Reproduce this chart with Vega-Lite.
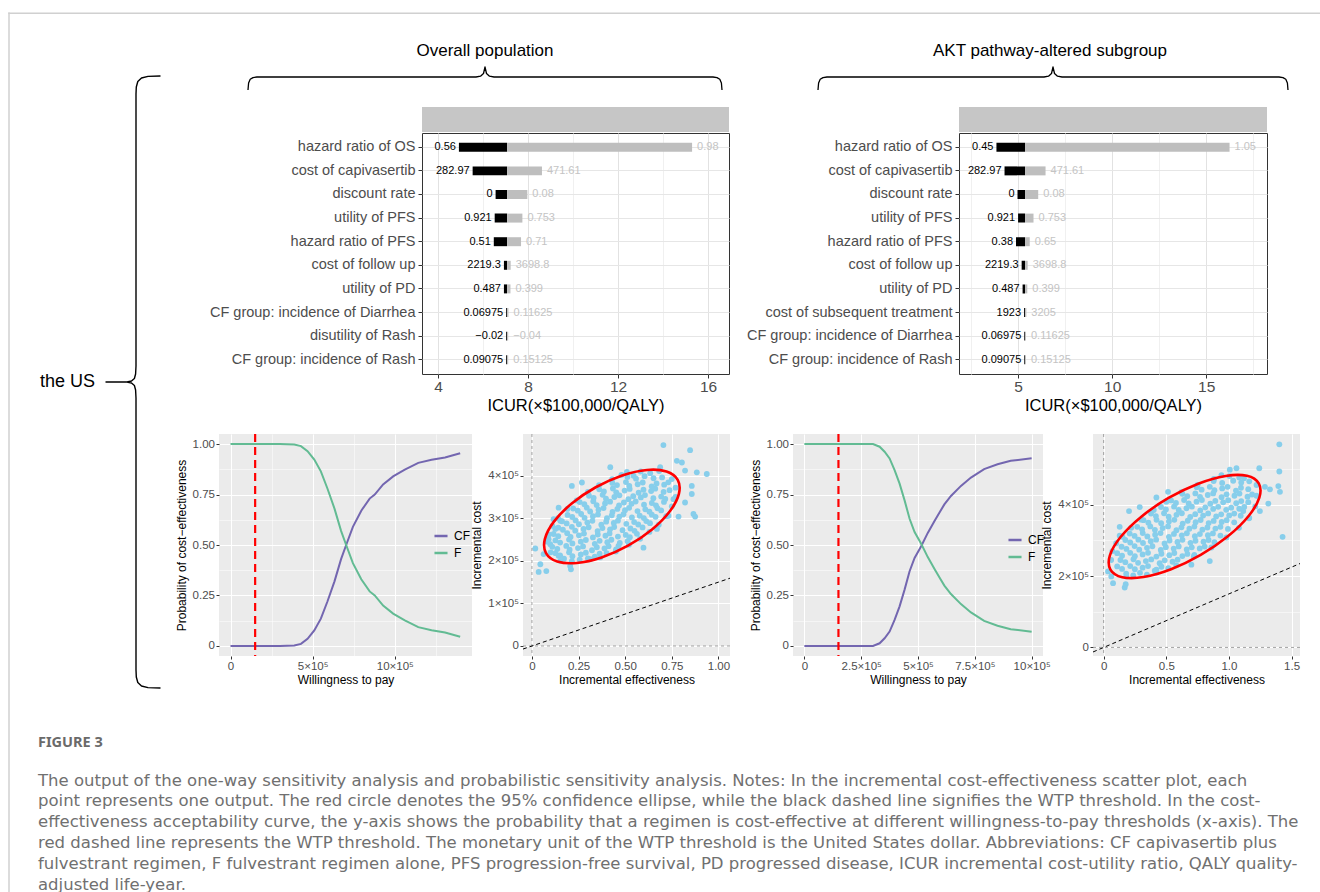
{
"$schema": "https://vega.github.io/schema/vega-lite/v6.json",
"background": "white",
"padding": {"left": 8, "top": 12, "right": 0, "bottom": 0},
"spacing": 0,
"resolve": {"scale": {"x": "independent", "y": "independent", "color": "independent"}, "legend": {"color": "independent"}},
"config": {
  "font": "Liberation Sans",
  "view": {"stroke": null},
  "concat": {"spacing": 0},
  "axis": {"domain": false, "titleFontWeight": "normal", "titleColor": "#000000", "labelColor": "#4D4D4D", "tickColor": "#333333", "labelFont": "Liberation Sans", "titleFont": "Liberation Sans"},
  "legend": {"labelFont": "Liberation Sans"}
},
"title": {
  "text": "FIGURE 3",
  "subtitle": [
    "The output of the one-way sensitivity analysis and probabilistic sensitivity analysis. Notes: In the incremental cost-effectiveness scatter plot, each",
    "point represents one output. The red circle denotes the 95% confidence ellipse, while the black dashed line signifies the WTP threshold. In the cost-",
    "effectiveness acceptability curve, the y-axis shows the probability that a regimen is cost-effective at different willingness-to-pay thresholds (x-axis). The",
    "red dashed line represents the WTP threshold. The monetary unit of the WTP threshold is the United States dollar. Abbreviations: CF capivasertib plus",
    "fulvestrant regimen, F fulvestrant regimen alone, PFS progression-free survival, PD progressed disease, ICUR incremental cost-utility ratio, QALY quality-",
    "adjusted life-year."
  ],
  "orient": "bottom", "anchor": "start", "frame": "group", "offset": -156, "dx": 30,
  "font": "Noto Sans", "fontSize": 14.5, "fontWeight": "bold", "color": "#6a6a6a",
  "subtitleFont": "DejaVu Sans", "subtitleFontSize": 16.5, "subtitleColor": "#707070", "subtitleLineHeight": 20.8, "subtitlePadding": 22
},
"datasets": {
  "frameL": [
    {"x":0.25,"x2":1.75,"y":0.5,"y2":880},{"x":0.25,"x2":160,"y":0.5,"y2":2}
  ],
  "frameR": [
    {"x":0,"x2":1152,"y":0.5,"y2":2}
  ],
  "braceL": [
    {"i":0,"x":152,"y":64},{"i":1,"x":140,"y":64.4},{"i":2,"x":133.5,"y":66},{"i":3,"x":129.8,"y":69.5},{"i":4,"x":128.3,"y":75},{"i":5,"x":128,"y":82},
    {"i":6,"x":128,"y":354},{"i":7,"x":127.6,"y":362},{"i":8,"x":126.4,"y":366.5},{"i":9,"x":123.5,"y":369},{"i":10,"x":119,"y":370},{"i":11,"x":98,"y":370},
    {"i":12,"x":119,"y":370.1},{"i":13,"x":123.5,"y":371},{"i":14,"x":126.4,"y":373.5},{"i":15,"x":127.6,"y":378},{"i":16,"x":128,"y":386},
    {"i":17,"x":128,"y":658},{"i":18,"x":128.3,"y":665},{"i":19,"x":129.8,"y":670.5},{"i":20,"x":133.5,"y":674},{"i":21,"x":140,"y":675.6},{"i":22,"x":152,"y":676}
  ],
  "brace1": [
    {"i":0,"x":0,"y":50},{"i":1,"x":0.6,"y":43},{"i":2,"x":2.2,"y":39.3},{"i":3,"x":5,"y":37.6},{"i":4,"x":9,"y":37},{"i":5,"x":228,"y":37},
    {"i":6,"x":232.5,"y":36.2},{"i":7,"x":235.5,"y":33.5},{"i":8,"x":237,"y":27},{"i":9,"x":238.5,"y":33.5},{"i":10,"x":241.5,"y":36.2},{"i":11,"x":246,"y":37},
    {"i":12,"x":465,"y":37},{"i":13,"x":469,"y":37.6},{"i":14,"x":471.8,"y":39.3},{"i":15,"x":473.4,"y":43},{"i":16,"x":474,"y":50}
  ],
  "brace2": [
    {"i":0,"x":2,"y":50},{"i":1,"x":2.6,"y":43},{"i":2,"x":4.2,"y":39.3},{"i":3,"x":7,"y":37.6},{"i":4,"x":11,"y":37},{"i":5,"x":228,"y":37},
    {"i":6,"x":232.5,"y":36.2},{"i":7,"x":235.5,"y":33.5},{"i":8,"x":237,"y":27},{"i":9,"x":238.5,"y":33.5},{"i":10,"x":241.5,"y":36.2},{"i":11,"x":246,"y":37},
    {"i":12,"x":463,"y":37},{"i":13,"x":467,"y":37.6},{"i":14,"x":469.8,"y":39.3},{"i":15,"x":471.4,"y":43},{"i":16,"x":472,"y":50}
  ],
  "tor1": [
    {"p":"hazard ratio of OS","lv":"0.56","hv":"0.98","lo":4.93,"hi":15.29,"base":7.07},
    {"p":"cost of capivasertib","lv":"282.97","hv":"471.61","lo":5.54,"hi":8.62,"base":7.07},
    {"p":"discount rate","lv":"0","hv":"0.08","lo":6.56,"hi":7.97,"base":7.07},
    {"p":"utility of PFS","lv":"0.921","hv":"0.753","lo":6.52,"hi":7.75,"base":7.07},
    {"p":"hazard ratio of PFS","lv":"0.51","hv":"0.71","lo":6.48,"hi":7.69,"base":7.07},
    {"p":"cost of follow up","lv":"2219.3","hv":"3698.8","lo":6.93,"hi":7.23,"base":7.07},
    {"p":"utility of PD","lv":"0.487","hv":"0.399","lo":6.93,"hi":7.22,"base":7.07},
    {"p":"CF group: incidence of Diarrhea","lv":"0.06975","hv":"0.11625","lo":7.03,"hi":7.13,"base":7.07},
    {"p":"disutility of Rash","lv":"−0.02","hv":"−0.04","lo":7.03,"hi":7.12,"base":7.07},
    {"p":"CF group: incidence of Rash","lv":"0.09075","hv":"0.15125","lo":7.03,"hi":7.12,"base":7.07}
  ],
  "tor2": [
    {"p":"hazard ratio of OS","lv":"0.45","hv":"1.05","lo":3.85,"hi":16.24,"base":5.37},
    {"p":"cost of capivasertib","lv":"282.97","hv":"471.61","lo":4.28,"hi":6.46,"base":5.37},
    {"p":"discount rate","lv":"0","hv":"0.08","lo":4.97,"hi":6.07,"base":5.37},
    {"p":"utility of PFS","lv":"0.921","hv":"0.753","lo":5.0,"hi":5.82,"base":5.37},
    {"p":"hazard ratio of PFS","lv":"0.38","hv":"0.65","lo":4.89,"hi":5.62,"base":5.37},
    {"p":"cost of follow up","lv":"2219.3","hv":"3698.8","lo":5.19,"hi":5.51,"base":5.37},
    {"p":"utility of PD","lv":"0.487","hv":"0.399","lo":5.24,"hi":5.49,"base":5.37},
    {"p":"cost of subsequent treatment","lv":"1923","hv":"3205","lo":5.32,"hi":5.44,"base":5.37},
    {"p":"CF group: incidence of Diarrhea","lv":"0.06975","hv":"0.11625","lo":5.33,"hi":5.42,"base":5.37},
    {"p":"CF group: incidence of Rash","lv":"0.09075","hv":"0.15125","lo":5.33,"hi":5.42,"base":5.37}
  ],
  "ceac1": [
    {"s":"CF","w":0,"p":0},{"s":"CF","w":100000,"p":0},{"s":"CF","w":200000,"p":0},{"s":"CF","w":300000,"p":0},{"s":"CF","w":388000,"p":0.002},{"s":"CF","w":429000,"p":0.01},
    {"s":"CF","w":469000,"p":0.035},{"s":"CF","w":510000,"p":0.077},{"s":"CF","w":550000,"p":0.135},{"s":"CF","w":590000,"p":0.22},{"s":"CF","w":633000,"p":0.32},{"s":"CF","w":673000,"p":0.43},
    {"s":"CF","w":704000,"p":0.5},{"s":"CF","w":745000,"p":0.59},{"s":"CF","w":796000,"p":0.67},{"s":"CF","w":847000,"p":0.73},{"s":"CF","w":878000,"p":0.75},{"s":"CF","w":929000,"p":0.8},
    {"s":"CF","w":990000,"p":0.84},{"s":"CF","w":1061000,"p":0.873},{"s":"CF","w":1143000,"p":0.907},{"s":"CF","w":1224000,"p":0.922},{"s":"CF","w":1306000,"p":0.934},{"s":"CF","w":1398000,"p":0.955},
    {"s":"F","w":0,"p":1},{"s":"F","w":100000,"p":1},{"s":"F","w":200000,"p":1},{"s":"F","w":300000,"p":1},{"s":"F","w":388000,"p":0.998},{"s":"F","w":429000,"p":0.99},
    {"s":"F","w":469000,"p":0.965},{"s":"F","w":510000,"p":0.923},{"s":"F","w":550000,"p":0.865},{"s":"F","w":590000,"p":0.78},{"s":"F","w":633000,"p":0.68},{"s":"F","w":673000,"p":0.57},
    {"s":"F","w":704000,"p":0.5},{"s":"F","w":745000,"p":0.41},{"s":"F","w":796000,"p":0.33},{"s":"F","w":847000,"p":0.27},{"s":"F","w":878000,"p":0.25},{"s":"F","w":929000,"p":0.2},
    {"s":"F","w":990000,"p":0.16},{"s":"F","w":1061000,"p":0.127},{"s":"F","w":1143000,"p":0.093},{"s":"F","w":1224000,"p":0.078},{"s":"F","w":1306000,"p":0.066},{"s":"F","w":1398000,"p":0.045}
  ],
  "ceac2": [
    {"s":"CF","w":0,"p":0},{"s":"CF","w":150000,"p":0},{"s":"CF","w":302000,"p":0},{"s":"CF","w":331000,"p":0.013},{"s":"CF","w":353000,"p":0.038},{"s":"CF","w":375000,"p":0.071},
    {"s":"CF","w":397000,"p":0.129},{"s":"CF","w":419000,"p":0.196},{"s":"CF","w":441000,"p":0.279},{"s":"CF","w":463000,"p":0.37},{"s":"CF","w":485000,"p":0.436},{"s":"CF","w":514000,"p":0.494},
    {"s":"CF","w":543000,"p":0.56},{"s":"CF","w":572000,"p":0.618},{"s":"CF","w":594000,"p":0.66},{"s":"CF","w":616000,"p":0.701},{"s":"CF","w":645000,"p":0.743},{"s":"CF","w":689000,"p":0.793},
    {"s":"CF","w":733000,"p":0.834},{"s":"CF","w":791000,"p":0.876},{"s":"CF","w":850000,"p":0.9},{"s":"CF","w":908000,"p":0.917},{"s":"CF","w":1000000,"p":0.93},
    {"s":"F","w":0,"p":1},{"s":"F","w":150000,"p":1},{"s":"F","w":302000,"p":1},{"s":"F","w":331000,"p":0.987},{"s":"F","w":353000,"p":0.962},{"s":"F","w":375000,"p":0.929},
    {"s":"F","w":397000,"p":0.871},{"s":"F","w":419000,"p":0.804},{"s":"F","w":441000,"p":0.721},{"s":"F","w":463000,"p":0.63},{"s":"F","w":485000,"p":0.564},{"s":"F","w":514000,"p":0.506},
    {"s":"F","w":543000,"p":0.44},{"s":"F","w":572000,"p":0.382},{"s":"F","w":594000,"p":0.34},{"s":"F","w":616000,"p":0.299},{"s":"F","w":645000,"p":0.257},{"s":"F","w":689000,"p":0.207},
    {"s":"F","w":733000,"p":0.166},{"s":"F","w":791000,"p":0.124},{"s":"F","w":850000,"p":0.1},{"s":"F","w":908000,"p":0.083},{"s":"F","w":1000000,"p":0.07}
  ],
  "ell1": [
    {"i":0,"e":0.7817,"c":390300},{"i":1,"e":0.788,"c":357500},{"i":2,"e":0.7395,"c":316600},{"i":3,"e":0.6438,"c":273800},
    {"i":4,"e":0.5152,"c":235700},{"i":5,"e":0.3733,"c":208000},{"i":6,"e":0.2401,"c":195000},{"i":7,"e":0.1355,"c":198600},
    {"i":8,"e":0.0754,"c":218300},{"i":9,"e":0.0691,"c":251200},{"i":10,"e":0.1177,"c":292100},{"i":11,"e":0.2133,"c":334800},
    {"i":12,"e":0.342,"c":372900},{"i":13,"e":0.4838,"c":400700},{"i":14,"e":0.617,"c":413600},{"i":15,"e":0.7217,"c":410000}
  ],
  "ell2": [
    {"i":0,"e":1.238,"c":459400},{"i":1,"e":1.2425,"c":419700},{"i":2,"e":1.1556,"c":367700},{"i":3,"e":0.9915,"c":311300},
    {"i":4,"e":0.7746,"c":259100},{"i":5,"e":0.538,"c":219000},{"i":6,"e":0.3184,"c":197300},{"i":7,"e":0.1484,"c":196900},
    {"i":8,"e":0.0541,"c":218300},{"i":9,"e":0.0498,"c":258100},{"i":10,"e":0.1367,"c":310000},{"i":11,"e":0.3008,"c":366400},
    {"i":12,"e":0.5177,"c":418700},{"i":13,"e":0.7543,"c":458800},{"i":14,"e":0.9739,"c":480500},{"i":15,"e":1.1439,"c":480800}
  ],
  "sc1": [
    {"e":0.172,"c":205000},{"e":0.214,"c":199000},{"e":0.256,"c":203000},{"e":0.30,"c":206000},
    {"e":0.126,"c":218000},{"e":0.151,"c":213000},{"e":0.199,"c":220000},{"e":0.217,"c":211000},{"e":0.262,"c":215000},{"e":0.289,"c":219000},{"e":0.337,"c":210000},{"e":0.363,"c":217000},
    {"e":0.109,"c":233000},{"e":0.136,"c":228000},{"e":0.184,"c":235000},{"e":0.202,"c":226000},{"e":0.247,"c":230000},{"e":0.274,"c":234000},{"e":0.322,"c":225000},{"e":0.348,"c":232000},{"e":0.389,"c":229000},{"e":0.411,"c":234500},{"e":0.451,"c":227000},
    {"e":0.126,"c":248000},{"e":0.151,"c":243000},{"e":0.199,"c":250000},{"e":0.217,"c":241000},{"e":0.262,"c":245000},{"e":0.289,"c":249000},{"e":0.337,"c":240000},{"e":0.363,"c":247000},{"e":0.404,"c":244000},{"e":0.426,"c":249500},{"e":0.471,"c":242000},{"e":0.513,"c":246000},
    {"e":0.116,"c":263000},{"e":0.141,"c":258000},{"e":0.189,"c":265000},{"e":0.207,"c":256000},{"e":0.252,"c":260000},{"e":0.279,"c":264000},{"e":0.327,"c":255000},{"e":0.353,"c":262000},{"e":0.394,"c":259000},{"e":0.416,"c":264500},{"e":0.461,"c":257000},{"e":0.503,"c":261000},{"e":0.525,"c":255500},{"e":0.563,"c":263500},
    {"e":0.141,"c":278000},{"e":0.166,"c":273000},{"e":0.214,"c":280000},{"e":0.232,"c":271000},{"e":0.277,"c":275000},{"e":0.304,"c":279000},{"e":0.352,"c":270000},{"e":0.378,"c":277000},{"e":0.419,"c":274000},{"e":0.441,"c":279500},{"e":0.486,"c":272000},{"e":0.528,"c":276000},{"e":0.55,"c":270500},{"e":0.593,"c":278500},
    {"e":0.161,"c":293000},{"e":0.186,"c":288000},{"e":0.234,"c":295000},{"e":0.252,"c":286000},{"e":0.297,"c":290000},{"e":0.324,"c":294000},{"e":0.372,"c":285000},{"e":0.398,"c":292000},{"e":0.439,"c":289000},{"e":0.461,"c":294500},{"e":0.506,"c":287000},{"e":0.548,"c":291000},{"e":0.57,"c":285500},{"e":0.613,"c":293500},{"e":0.633,"c":288500},
    {"e":0.191,"c":308000},{"e":0.216,"c":303000},{"e":0.264,"c":310000},{"e":0.282,"c":301000},{"e":0.327,"c":305000},{"e":0.354,"c":309000},{"e":0.402,"c":300000},{"e":0.428,"c":307000},{"e":0.469,"c":304000},{"e":0.491,"c":309500},{"e":0.536,"c":302000},{"e":0.578,"c":306000},{"e":0.6,"c":300500},{"e":0.643,"c":308500},{"e":0.663,"c":303500},
    {"e":0.221,"c":323000},{"e":0.246,"c":318000},{"e":0.294,"c":325000},{"e":0.312,"c":316000},{"e":0.357,"c":320000},{"e":0.384,"c":324000},{"e":0.432,"c":315000},{"e":0.458,"c":322000},{"e":0.499,"c":319000},{"e":0.521,"c":324500},{"e":0.566,"c":317000},{"e":0.608,"c":321000},{"e":0.63,"c":315500},{"e":0.673,"c":323500},{"e":0.693,"c":318500},
    {"e":0.256,"c":338000},{"e":0.281,"c":333000},{"e":0.329,"c":340000},{"e":0.347,"c":331000},{"e":0.392,"c":335000},{"e":0.419,"c":339000},{"e":0.467,"c":330000},{"e":0.493,"c":337000},{"e":0.534,"c":334000},{"e":0.556,"c":339500},{"e":0.601,"c":332000},{"e":0.643,"c":336000},{"e":0.665,"c":330500},{"e":0.708,"c":338500},
    {"e":0.306,"c":353000},{"e":0.331,"c":348000},{"e":0.379,"c":355000},{"e":0.397,"c":346000},{"e":0.442,"c":350000},{"e":0.469,"c":354000},{"e":0.517,"c":345000},{"e":0.543,"c":352000},{"e":0.584,"c":349000},{"e":0.606,"c":354500},{"e":0.651,"c":347000},{"e":0.693,"c":351000},{"e":0.715,"c":345500},
    {"e":0.361,"c":368000},{"e":0.386,"c":363000},{"e":0.434,"c":370000},{"e":0.452,"c":361000},{"e":0.497,"c":365000},{"e":0.524,"c":369000},{"e":0.572,"c":360000},{"e":0.598,"c":367000},{"e":0.639,"c":364000},{"e":0.661,"c":369500},{"e":0.706,"c":362000},{"e":0.738,"c":366000},
    {"e":0.431,"c":383000},{"e":0.456,"c":378000},{"e":0.504,"c":385000},{"e":0.522,"c":376000},{"e":0.567,"c":380000},{"e":0.594,"c":384000},{"e":0.642,"c":375000},{"e":0.668,"c":382000},{"e":0.709,"c":379000},{"e":0.731,"c":384500},
    {"e":0.512,"c":397000},{"e":0.558,"c":393000},{"e":0.604,"c":399000},{"e":0.652,"c":394000},{"e":0.698,"c":396000},
    {"e":0.583,"c":410000},{"e":0.634,"c":406000},{"e":0.682,"c":411000},
    {"e":0.705,"c":472000},{"e":0.777,"c":435000},{"e":0.804,"c":431000},{"e":0.848,"c":460000},{"e":0.884,"c":408000},{"e":0.9375,"c":404000},{"e":0.821,"c":412000},{"e":0.857,"c":376000},{"e":0.857,"c":357000},{"e":0.875,"c":304000},
    {"e":0.786,"c":304000},{"e":0.821,"c":337000},{"e":0.6875,"c":420000},{"e":0.598,"c":231000},{"e":0.036,"c":174000},{"e":0.045,"c":192000},{"e":0.077,"c":176000},{"e":0.018,"c":229000},{"e":0.0625,"c":216000},{"e":0.098,"c":239000},
    {"e":0.089,"c":251000},{"e":0.205,"c":188000},{"e":0.209,"c":180000},{"e":0.143,"c":212000},{"e":0.152,"c":200000},{"e":0.3125,"c":204000},{"e":0.366,"c":208000},{"e":0.214,"c":376000},{"e":0.268,"c":384000},{"e":0.143,"c":325000},
    {"e":0.152,"c":294000},{"e":0.116,"c":298000},{"e":0.125,"c":275000},{"e":0.42,"c":420000},{"e":0.509,"c":409000},{"e":0.545,"c":400000},{"e":0.464,"c":235000},{"e":0.759,"c":345000},{"e":0.732,"c":306000},{"e":0.866,"c":310000},{"e":0.67,"c":275000},
    {"e":0.08,"c":245000},{"e":0.09,"c":262000},{"e":0.11,"c":282000},{"e":0.14,"c":300000},{"e":0.19,"c":322000},{"e":0.24,"c":342000},{"e":0.30,"c":362000},{"e":0.36,"c":378000},{"e":0.43,"c":392000},{"e":0.48,"c":402000},
    {"e":0.45,"c":222000},{"e":0.52,"c":238000},{"e":0.58,"c":252000},{"e":0.63,"c":268000},{"e":0.68,"c":285000},{"e":0.72,"c":305000},{"e":0.75,"c":328000},{"e":0.77,"c":350000},{"e":0.77,"c":372000},{"e":0.75,"c":392000},{"e":0.40,"c":218000},{"e":0.10,"c":220000}
  ],
  "sc2": [
    {"e":0.18,"c":207000},{"e":0.236,"c":202000},{"e":0.29,"c":209000},{"e":0.345,"c":204000},
    {"e":0.108,"c":227000},{"e":0.147,"c":220000},{"e":0.212,"c":228000},{"e":0.249,"c":219000},{"e":0.311,"c":223500},{"e":0.354,"c":228000},{"e":0.421,"c":218000},{"e":0.461,"c":226000},{"e":0.516,"c":222000},
    {"e":0.134,"c":245000},{"e":0.173,"c":239000},{"e":0.238,"c":247000},{"e":0.275,"c":237000},{"e":0.337,"c":242000},{"e":0.38,"c":246500},{"e":0.447,"c":236000},{"e":0.487,"c":244000},{"e":0.55,"c":240000},{"e":0.59,"c":246000},
    {"e":0.108,"c":264000},{"e":0.147,"c":257000},{"e":0.212,"c":265000},{"e":0.249,"c":255500},{"e":0.311,"c":260500},{"e":0.354,"c":265000},{"e":0.421,"c":254500},{"e":0.461,"c":262500},{"e":0.524,"c":258500},{"e":0.564,"c":264500},{"e":0.628,"c":256000},{"e":0.668,"c":262000},{"e":0.724,"c":259000},
    {"e":0.143,"c":282000},{"e":0.182,"c":276000},{"e":0.247,"c":284000},{"e":0.284,"c":274000},{"e":0.346,"c":279000},{"e":0.389,"c":283500},{"e":0.456,"c":273000},{"e":0.496,"c":281000},{"e":0.559,"c":277000},{"e":0.599,"c":283000},{"e":0.663,"c":274500},{"e":0.703,"c":280500},{"e":0.767,"c":277500},{"e":0.806,"c":282500},
    {"e":0.173,"c":301000},{"e":0.212,"c":294000},{"e":0.277,"c":302000},{"e":0.314,"c":292500},{"e":0.376,"c":297500},{"e":0.419,"c":302000},{"e":0.486,"c":291500},{"e":0.526,"c":299500},{"e":0.589,"c":295500},{"e":0.629,"c":301500},{"e":0.693,"c":293000},{"e":0.733,"c":299000},{"e":0.797,"c":296000},{"e":0.837,"c":301000},{"e":0.884,"c":295000},
    {"e":0.208,"c":319000},{"e":0.247,"c":312500},{"e":0.312,"c":320500},{"e":0.349,"c":311000},{"e":0.411,"c":316000},{"e":0.454,"c":320500},{"e":0.521,"c":310000},{"e":0.561,"c":318000},{"e":0.624,"c":314000},{"e":0.664,"c":320000},{"e":0.728,"c":311500},{"e":0.768,"c":317500},{"e":0.832,"c":314500},{"e":0.872,"c":319500},{"e":0.932,"c":313500},
    {"e":0.268,"c":338000},{"e":0.307,"c":331000},{"e":0.372,"c":339000},{"e":0.409,"c":329500},{"e":0.471,"c":334500},{"e":0.514,"c":339000},{"e":0.581,"c":328500},{"e":0.621,"c":336500},{"e":0.684,"c":332500},{"e":0.724,"c":338500},{"e":0.788,"c":330000},{"e":0.828,"c":336000},{"e":0.892,"c":333000},{"e":0.932,"c":338000},{"e":0.992,"c":332000},
    {"e":0.318,"c":356500},{"e":0.357,"c":349500},{"e":0.422,"c":357500},{"e":0.459,"c":348000},{"e":0.521,"c":353000},{"e":0.564,"c":357500},{"e":0.631,"c":347000},{"e":0.671,"c":355000},{"e":0.734,"c":351000},{"e":0.774,"c":357000},{"e":0.838,"c":348500},{"e":0.878,"c":354500},{"e":0.942,"c":351500},{"e":0.982,"c":356500},{"e":1.042,"c":350500},
    {"e":0.378,"c":375000},{"e":0.417,"c":368000},{"e":0.482,"c":376000},{"e":0.519,"c":366500},{"e":0.581,"c":371500},{"e":0.624,"c":376000},{"e":0.691,"c":365500},{"e":0.731,"c":373500},{"e":0.794,"c":369500},{"e":0.834,"c":375500},{"e":0.898,"c":367000},{"e":0.938,"c":373000},{"e":1.002,"c":370000},{"e":1.042,"c":375000},{"e":1.094,"c":369000},
    {"e":0.458,"c":393500},{"e":0.497,"c":386500},{"e":0.562,"c":394500},{"e":0.599,"c":385000},{"e":0.661,"c":390000},{"e":0.704,"c":394500},{"e":0.771,"c":384000},{"e":0.811,"c":392000},{"e":0.874,"c":388000},{"e":0.914,"c":394000},{"e":0.978,"c":385500},{"e":1.018,"c":391500},{"e":1.082,"c":388500},{"e":1.122,"c":393500},
    {"e":0.538,"c":412000},{"e":0.577,"c":405000},{"e":0.642,"c":413000},{"e":0.679,"c":403500},{"e":0.741,"c":408500},{"e":0.784,"c":413000},{"e":0.851,"c":402500},{"e":0.891,"c":410500},{"e":0.954,"c":406500},{"e":0.994,"c":412500},{"e":1.058,"c":404000},{"e":1.098,"c":410000},{"e":1.154,"c":407000},
    {"e":0.628,"c":430500},{"e":0.667,"c":423500},{"e":0.732,"c":431500},{"e":0.769,"c":422000},{"e":0.831,"c":427000},{"e":0.874,"c":431500},{"e":0.941,"c":421000},{"e":0.981,"c":429000},{"e":1.044,"c":425000},{"e":1.084,"c":431000},{"e":1.148,"c":422500},{"e":1.185,"c":428500},
    {"e":0.743,"c":449000},{"e":0.782,"c":442000},{"e":0.847,"c":450000},{"e":0.884,"c":440500},{"e":0.946,"c":445500},{"e":0.989,"c":450000},{"e":1.056,"c":439500},{"e":1.096,"c":447500},{"e":1.154,"c":443500},
    {"e":0.878,"c":466000},{"e":0.946,"c":461000},{"e":1.034,"c":467000},{"e":1.098,"c":462000},{"e":1.162,"c":465500},
    {"e":1.004,"c":480000},{"e":1.082,"c":476000},
    {"e":1.402,"c":569000},{"e":1.402,"c":493000},{"e":1.242,"c":502000},{"e":1.394,"c":452000},{"e":1.407,"c":436000},{"e":1.327,"c":443000},{"e":1.314,"c":403000},{"e":1.428,"c":310000},{"e":1.287,"c":450000},{"e":1.247,"c":382000},
    {"e":1.162,"c":363000},{"e":1.114,"c":382000},{"e":0.847,"c":242000},{"e":0.70,"c":232000},{"e":0.408,"c":215000},{"e":0.2025,"c":382000},{"e":0.421,"c":420000},{"e":0.514,"c":436000},{"e":0.075,"c":180000},{"e":0.168,"c":168000},
    {"e":0.176,"c":177000},{"e":0.035,"c":213000},{"e":0.061,"c":199000},{"e":0.128,"c":338000},{"e":0.128,"c":313000},{"e":1.007,"c":498000},{"e":1.06,"c":502000},{"e":0.94,"c":483000},{"e":0.288,"c":393000},{"e":0.181,"c":199000},
    {"e":0.06,"c":245000},{"e":0.07,"c":270000},{"e":0.10,"c":292000},{"e":0.15,"c":310000},{"e":0.22,"c":335000},{"e":0.30,"c":358000},{"e":0.40,"c":385000},{"e":0.50,"c":408000},{"e":0.62,"c":435000},{"e":0.75,"c":455000},{"e":0.88,"c":472000},
    {"e":0.42,"c":210000},{"e":0.58,"c":230000},{"e":0.72,"c":255000},{"e":0.86,"c":280000},{"e":0.98,"c":308000},{"e":1.08,"c":335000},{"e":1.16,"c":362000},{"e":1.21,"c":395000},{"e":1.22,"c":425000},{"e":1.22,"c":455000},{"e":1.12,"c":474000}
  ]
},
"hconcat": [
  {
    "width": 160, "height": 880,
    "layer": [
      {"data": {"name": "frameL"}, "mark": {"type": "rect", "color": "#D0D0D0"},
       "encoding": {"x": {"field": "x", "type": "quantitative", "scale": {"domain": [0, 160], "nice": false, "zero": false}, "axis": null},
                    "x2": {"field": "x2"},
                    "y": {"field": "y", "type": "quantitative", "scale": {"domain": [0, 880], "nice": false, "zero": false, "reverse": true}, "axis": null},
                    "y2": {"field": "y2"}}},
      {"data": {"name": "braceL"}, "mark": {"type": "line", "color": "#000000", "strokeWidth": 1.4, "strokeJoin": "round", "strokeCap": "round"},
       "encoding": {"x": {"field": "x", "type": "quantitative"},
                    "y": {"field": "y", "type": "quantitative"},
                    "order": {"field": "i", "type": "quantitative"}}},
      {"data": {"values": [{"t": "the US"}]}, "mark": {"type": "text", "align": "left", "baseline": "middle", "fontSize": 18, "color": "#000000"},
       "encoding": {"x": {"datum": 32, "type": "quantitative"}, "y": {"datum": 370, "type": "quantitative"}, "text": {"field": "t"}}}
    ]
  },
  {
    "vconcat": [
      {"width": 1152, "height": 28,
       "data": {"name": "frameR"}, "mark": {"type": "rect", "color": "#D0D0D0"},
       "encoding": {"x": {"field": "x", "type": "quantitative", "scale": {"domain": [0, 1152], "nice": false, "zero": false}, "axis": null},
                    "x2": {"field": "x2"},
                    "y": {"field": "y", "type": "quantitative", "scale": {"domain": [0, 28], "nice": false, "zero": false, "reverse": true}, "axis": null},
                    "y2": {"field": "y2"}}},
      {
        "hconcat": [
          {"width": 80, "height": 92, "data": {"values": []}, "mark": "point"},
          {
            "width": 481, "height": 92,
            "layer": [
              {"data": {"values": [{}]}, "mark": {"type": "rect", "color": "#C6C6C6"},
               "encoding": {"x": {"datum": 174, "type": "quantitative", "scale": {"domain": [0, 481], "nice": false, "zero": false}, "axis": null},
                            "x2": {"datum": 481},
                            "y": {"datum": 67, "type": "quantitative", "scale": {"domain": [0, 92], "nice": false, "zero": false, "reverse": true}, "axis": null},
                            "y2": {"datum": 92}}},
              {"data": {"name": "brace1"}, "mark": {"type": "line", "color": "#000000", "strokeWidth": 1.3, "strokeJoin": "round"},
               "encoding": {"x": {"field": "x", "type": "quantitative"}, "y": {"field": "y", "type": "quantitative"}, "order": {"field": "i", "type": "quantitative"}}},
              {"data": {"values": [{"t": "Overall population"}]}, "mark": {"type": "text", "align": "center", "baseline": "middle", "fontSize": 17, "color": "#000000"},
               "encoding": {"x": {"datum": 237, "type": "quantitative"}, "y": {"datum": 11, "type": "quantitative"}, "text": {"field": "t"}}}
            ]
          },
          {"width": 87, "height": 92, "data": {"values": []}, "mark": "point"},
          {
            "width": 474, "height": 92,
            "layer": [
              {"data": {"values": [{}]}, "mark": {"type": "rect", "color": "#C6C6C6"},
               "encoding": {"x": {"datum": 143, "type": "quantitative", "scale": {"domain": [0, 474], "nice": false, "zero": false}, "axis": null},
                            "x2": {"datum": 451},
                            "y": {"datum": 67, "type": "quantitative", "scale": {"domain": [0, 92], "nice": false, "zero": false, "reverse": true}, "axis": null},
                            "y2": {"datum": 92}}},
              {"data": {"name": "brace2"}, "mark": {"type": "line", "color": "#000000", "strokeWidth": 1.3, "strokeJoin": "round"},
               "encoding": {"x": {"field": "x", "type": "quantitative"}, "y": {"field": "y", "type": "quantitative"}, "order": {"field": "i", "type": "quantitative"}}},
              {"data": {"values": [{"t": "AKT pathway-altered subgroup"}]}, "mark": {"type": "text", "align": "center", "baseline": "middle", "fontSize": 17, "color": "#000000"},
               "encoding": {"x": {"datum": 234, "type": "quantitative"}, "y": {"datum": 11, "type": "quantitative"}, "text": {"field": "t"}}}
            ]
          }
        ],
        "spacing": 0, "bounds": "flush",
        "resolve": {"scale": {"x": "independent", "y": "independent"}}
      },
      {
        "hconcat": [
          {"width": 254, "height": 241, "data": {"values": []}, "mark": "point"},
          {
            "width": 307, "height": 241,
            "data": {"name": "tor1"},
            "view": {"stroke": "#333333", "strokeWidth": 1, "fill": "white"},
            "encoding": {
              "y": {"field": "p", "type": "nominal", "sort": null, "scale": {"paddingInner": 0.62, "paddingOuter": 0.415},
                    "axis": {"title": null, "labelFontSize": 14.5, "labelColor": "#4D4D4D", "labelLimit": 400, "tickSize": 4, "labelPadding": 3, "grid": true, "gridColor": "#E6E6E6", "bandPosition": 0.5}}
            },
            "layer": [
              {"mark": {"type": "bar", "color": "#000000"},
               "encoding": {"x": {"field": "lo", "type": "quantitative", "scale": {"domain": [3.29, 16.93], "nice": false, "zero": false},
                                  "axis": {"values": [4,6,8,10,12,14,16], "labelExpr": "datum.value % 4 == 0 ? datum.label : ''",
                                           "tickOpacity": {"condition": {"test": "datum.value % 4 != 0", "value": 0}, "value": 1},
                                           "grid": true, "gridColor": {"condition": {"test": "datum.value % 4 != 0", "value": "#F0F0F0"}, "value": "#E2E2E2"},
                                           "title": "ICUR(×$100,000/QALY)", "titleFontSize": 16.5, "labelFontSize": 15.5, "tickSize": 4, "labelPadding": 1, "titlePadding": 3, "labelFlush": false}},
                            "x2": {"field": "base"}}},
              {"mark": {"type": "bar", "color": "#BEBEBE"},
               "encoding": {"x": {"field": "base", "type": "quantitative"}, "x2": {"field": "hi"}}},
              {"mark": {"type": "text", "align": "right", "baseline": "middle", "dx": -3, "fontSize": 11, "color": "#000000"},
               "encoding": {"x": {"field": "lo", "type": "quantitative"}, "text": {"field": "lv"}}},
              {"mark": {"type": "text", "align": "left", "baseline": "middle", "dx": 5, "fontSize": 11, "color": "#C4C4C4"},
               "encoding": {"x": {"field": "hi", "type": "quantitative"}, "text": {"field": "hv"}}}
            ]
          },
          {"width": 230, "height": 241, "data": {"values": []}, "mark": "point"},
          {
            "width": 308, "height": 241,
            "data": {"name": "tor2"},
            "view": {"stroke": "#333333", "strokeWidth": 1, "fill": "white"},
            "encoding": {
              "y": {"field": "p", "type": "nominal", "sort": null, "scale": {"paddingInner": 0.62, "paddingOuter": 0.415},
                    "axis": {"title": null, "labelFontSize": 14.5, "labelColor": "#4D4D4D", "labelLimit": 400, "tickSize": 4, "labelPadding": 3, "grid": true, "gridColor": "#E6E6E6", "bandPosition": 0.5}}
            },
            "layer": [
              {"mark": {"type": "bar", "color": "#000000"},
               "encoding": {"x": {"field": "lo", "type": "quantitative", "scale": {"domain": [1.86, 18.23], "nice": false, "zero": false},
                                  "axis": {"values": [2.5,5,7.5,10,12.5,15,17.5], "labelExpr": "datum.value % 5 == 0 ? datum.label : ''",
                                           "tickOpacity": {"condition": {"test": "datum.value % 5 != 0", "value": 0}, "value": 1},
                                           "grid": true, "gridColor": {"condition": {"test": "datum.value % 5 != 0", "value": "#F0F0F0"}, "value": "#E2E2E2"},
                                           "title": "ICUR(×$100,000/QALY)", "titleFontSize": 16.5, "labelFontSize": 15.5, "tickSize": 4, "labelPadding": 1, "titlePadding": 3, "labelFlush": false}},
                            "x2": {"field": "base"}}},
              {"mark": {"type": "bar", "color": "#BEBEBE"},
               "encoding": {"x": {"field": "base", "type": "quantitative"}, "x2": {"field": "hi"}}},
              {"mark": {"type": "text", "align": "right", "baseline": "middle", "dx": -3, "fontSize": 11, "color": "#000000"},
               "encoding": {"x": {"field": "lo", "type": "quantitative"}, "text": {"field": "lv"}}},
              {"mark": {"type": "text", "align": "left", "baseline": "middle", "dx": 5, "fontSize": 11, "color": "#C4C4C4"},
               "encoding": {"x": {"field": "hi", "type": "quantitative"}, "text": {"field": "hv"}}}
            ]
          }
        ],
        "spacing": 0, "bounds": "flush",
        "resolve": {"scale": {"x": "independent", "y": "independent"}}
      },
      {"width": 10, "height": 17, "data": {"values": []}, "mark": "point"},
      {
        "hconcat": [
          {"width": 51, "height": 222, "data": {"values": []}, "mark": "point"},
          {
            "width": 253, "height": 222,
            "view": {"fill": "#EBEBEB", "stroke": null},
            "layer": [
              {"data": {"name": "ceac1"}, "mark": {"type": "line", "strokeWidth": 2},
               "encoding": {
                 "x": {"field": "w", "type": "quantitative", "scale": {"domain": [-70000, 1470000], "nice": false, "zero": false},
                       "axis": {"values": [0,250000,500000,750000,1000000,1250000],
                                "labelExpr": "datum.value == 0 ? '0' : (datum.value % 500000 == 0 ? (datum.value/100000) + '×10⁵' : '')",
                                "tickOpacity": {"condition": {"test": "datum.value % 500000 != 0", "value": 0}, "value": 1},
                                "grid": true, "gridColor": "#FFFFFF", "gridWidth": {"condition": {"test": "datum.value % 500000 != 0", "value": 0.5}, "value": 1.1},
                                "title": "Willingness to pay", "labelFontSize": 11.5, "titleFontSize": 12, "tickSize": 3, "labelPadding": 1.5, "titlePadding": 2, "labelFlush": false}},
                 "y": {"field": "p", "type": "quantitative", "scale": {"domain": [-0.05, 1.05], "nice": false, "zero": false},
                       "axis": {"values": [0,0.125,0.25,0.375,0.5,0.625,0.75,0.875,1],
                                "labelExpr": "datum.value == 0 ? '0' : ((datum.value * 4) % 1 == 0 ? format(datum.value, '.2f') : '')",
                                "tickOpacity": {"condition": {"test": "(datum.value * 4) % 1 != 0", "value": 0}, "value": 1},
                                "grid": true, "gridColor": "#FFFFFF", "gridWidth": {"condition": {"test": "(datum.value * 4) % 1 != 0", "value": 0.5}, "value": 1.1},
                                "title": "Probability of cost−effectiveness", "labelFontSize": 11.5, "titleFontSize": 12, "tickSize": 3, "labelPadding": 1.5, "titlePadding": 4, "labelFlush": false}},
                 "color": {"field": "s", "type": "nominal", "scale": {"domain": ["CF", "F"], "range": ["#7366B0", "#62BB93"]},
                           "legend": {"title": null, "orient": "none", "legendX": 214, "legendY": 94, "symbolType": "stroke", "symbolStrokeWidth": 2.5, "symbolSize": 170, "labelFontSize": 12, "labelColor": "#000000", "rowPadding": 3, "labelOffset": 5}}
               }},
              {"data": {"values": [{"w": 150000}]}, "mark": {"type": "rule", "color": "#FF0000", "strokeDash": [8, 5], "strokeWidth": 2.2},
               "encoding": {"x": {"field": "w", "type": "quantitative"}}}
            ]
          },
          {"width": 51, "height": 222, "data": {"values": []}, "mark": "point"},
          {
            "width": 207, "height": 222,
            "view": {"fill": "#EBEBEB", "stroke": null},
            "layer": [
              {"data": {"name": "sc1"}, "mark": {"type": "point", "filled": true, "size": 34, "opacity": 1, "color": "#87CEEB"},
               "encoding": {
                 "x": {"field": "e", "type": "quantitative", "scale": {"domain": [-0.048, 1.062], "nice": false, "zero": false},
                       "axis": {"values": [0,0.125,0.25,0.375,0.5,0.625,0.75,0.875,1],
                                "labelExpr": "datum.value == 0 ? '0' : ((datum.value * 4) % 1 == 0 ? format(datum.value, '.2f') : '')",
                                "tickOpacity": {"condition": {"test": "(datum.value * 4) % 1 != 0", "value": 0}, "value": 1},
                                "grid": true, "gridColor": "#FFFFFF", "gridWidth": {"condition": {"test": "(datum.value * 4) % 1 != 0", "value": 0.5}, "value": 1.1},
                                "title": "Incremental effectiveness", "labelFontSize": 11.5, "titleFontSize": 12, "tickSize": 3, "labelPadding": 1.5, "titlePadding": 2, "labelFlush": false}},
                 "y": {"field": "c", "type": "quantitative", "scale": {"domain": [-23500, 498000], "nice": false, "zero": false},
                       "axis": {"values": [0,50000,100000,150000,200000,250000,300000,350000,400000,450000],
                                "labelExpr": "datum.value == 0 ? '0' : (datum.value % 100000 == 0 ? (datum.value/100000) + '×10⁵' : '')",
                                "tickOpacity": {"condition": {"test": "datum.value % 100000 != 0", "value": 0}, "value": 1},
                                "grid": true, "gridColor": "#FFFFFF", "gridWidth": {"condition": {"test": "datum.value % 100000 != 0", "value": 0.5}, "value": 1.1},
                                "title": "Incremental cost", "labelFontSize": 11.5, "titleFontSize": 12, "tickSize": 3, "labelPadding": 1.5, "titlePadding": 4, "labelFlush": false}}
               }},
              {"data": {"values": [{}]}, "mark": {"type": "rule", "color": "#8C8C8C", "strokeDash": [3, 3], "strokeWidth": 0.8},
               "encoding": {"x": {"datum": 0, "type": "quantitative"}}},
              {"data": {"values": [{}]}, "mark": {"type": "rule", "color": "#8C8C8C", "strokeDash": [3, 3], "strokeWidth": 0.8},
               "encoding": {"y": {"datum": 0, "type": "quantitative"}}},
              {"data": {"values": [{"e0": -0.048, "c0": -7200, "e1": 1.062, "c1": 159300}]}, "mark": {"type": "rule", "color": "#000000", "strokeDash": [4, 3], "strokeWidth": 1},
               "encoding": {"x": {"field": "e0", "type": "quantitative"}, "y": {"field": "c0", "type": "quantitative"}, "x2": {"field": "e1"}, "y2": {"field": "c1"}}},
              {"data": {"name": "ell1"}, "mark": {"type": "line", "color": "#FF0000", "strokeWidth": 2.6, "interpolate": "cardinal-closed"},
               "encoding": {"x": {"field": "e", "type": "quantitative"}, "y": {"field": "c", "type": "quantitative"}, "order": {"field": "i", "type": "quantitative"}}}
            ]
          },
          {"width": 63, "height": 222, "data": {"values": []}, "mark": "point"},
          {
            "width": 250, "height": 222,
            "view": {"fill": "#EBEBEB", "stroke": null},
            "layer": [
              {"data": {"name": "ceac2"}, "mark": {"type": "line", "strokeWidth": 2},
               "encoding": {
                 "x": {"field": "w", "type": "quantitative", "scale": {"domain": [-50000, 1050000], "nice": false, "zero": false},
                       "axis": {"values": [0,125000,250000,375000,500000,625000,750000,875000,1000000],
                                "labelExpr": "datum.value == 0 ? '0' : (datum.value % 250000 == 0 ? (datum.value/100000) + '×10⁵' : '')",
                                "tickOpacity": {"condition": {"test": "datum.value % 250000 != 0", "value": 0}, "value": 1},
                                "grid": true, "gridColor": "#FFFFFF", "gridWidth": {"condition": {"test": "datum.value % 250000 != 0", "value": 0.5}, "value": 1.1},
                                "title": "Willingness to pay", "labelFontSize": 11.5, "titleFontSize": 12, "tickSize": 3, "labelPadding": 1.5, "titlePadding": 2, "labelFlush": false}},
                 "y": {"field": "p", "type": "quantitative", "scale": {"domain": [-0.05, 1.05], "nice": false, "zero": false},
                       "axis": {"values": [0,0.125,0.25,0.375,0.5,0.625,0.75,0.875,1],
                                "labelExpr": "datum.value == 0 ? '0' : ((datum.value * 4) % 1 == 0 ? format(datum.value, '.2f') : '')",
                                "tickOpacity": {"condition": {"test": "(datum.value * 4) % 1 != 0", "value": 0}, "value": 1},
                                "grid": true, "gridColor": "#FFFFFF", "gridWidth": {"condition": {"test": "(datum.value * 4) % 1 != 0", "value": 0.5}, "value": 1.1},
                                "title": "Probability of cost−effectiveness", "labelFontSize": 11.5, "titleFontSize": 12, "tickSize": 3, "labelPadding": 1.5, "titlePadding": 4, "labelFlush": false}},
                 "color": {"field": "s", "type": "nominal", "scale": {"domain": ["CF", "F"], "range": ["#7366B0", "#62BB93"]},
                           "legend": {"title": null, "orient": "none", "legendX": 214, "legendY": 98, "symbolType": "stroke", "symbolStrokeWidth": 2.5, "symbolSize": 170, "labelFontSize": 12, "labelColor": "#000000", "rowPadding": 3, "labelOffset": 5}}
               }},
              {"data": {"values": [{"w": 150000}]}, "mark": {"type": "rule", "color": "#FF0000", "strokeDash": [8, 5], "strokeWidth": 2.2},
               "encoding": {"x": {"field": "w", "type": "quantitative"}}}
            ]
          },
          {"width": 50, "height": 222, "data": {"values": []}, "mark": "point"},
          {
            "width": 207, "height": 222,
            "view": {"fill": "#EBEBEB", "stroke": null},
            "layer": [
              {"data": {"name": "sc2"}, "mark": {"type": "point", "filled": true, "size": 34, "opacity": 1, "color": "#87CEEB"},
               "encoding": {
                 "x": {"field": "e", "type": "quantitative", "scale": {"domain": [-0.085, 1.567], "nice": false, "zero": false},
                       "axis": {"values": [0,0.25,0.5,0.75,1,1.25,1.5],
                                "labelExpr": "datum.value == 0 ? '0' : ((datum.value * 2) % 1 == 0 ? format(datum.value, '.1f') : '')",
                                "tickOpacity": {"condition": {"test": "(datum.value * 2) % 1 != 0", "value": 0}, "value": 1},
                                "grid": true, "gridColor": "#FFFFFF", "gridWidth": {"condition": {"test": "(datum.value * 2) % 1 != 0", "value": 0.5}, "value": 1.1},
                                "title": "Incremental effectiveness", "labelFontSize": 11.5, "titleFontSize": 12, "tickSize": 3, "labelPadding": 1.5, "titlePadding": 2, "labelFlush": false}},
                 "y": {"field": "c", "type": "quantitative", "scale": {"domain": [-24000, 598000], "nice": false, "zero": false},
                       "axis": {"values": [0,100000,200000,300000,400000,500000],
                                "labelExpr": "datum.value == 0 ? '0' : (datum.value % 200000 == 0 ? (datum.value/100000) + '×10⁵' : '')",
                                "tickOpacity": {"condition": {"test": "datum.value % 200000 != 0", "value": 0}, "value": 1},
                                "grid": true, "gridColor": "#FFFFFF", "gridWidth": {"condition": {"test": "datum.value % 200000 != 0", "value": 0.5}, "value": 1.1},
                                "title": "Incremental cost", "labelFontSize": 11.5, "titleFontSize": 12, "tickSize": 3, "labelPadding": 1.5, "titlePadding": 4, "labelFlush": false}}
               }},
              {"data": {"values": [{}]}, "mark": {"type": "rule", "color": "#8C8C8C", "strokeDash": [3, 3], "strokeWidth": 0.8},
               "encoding": {"x": {"datum": 0, "type": "quantitative"}}},
              {"data": {"values": [{}]}, "mark": {"type": "rule", "color": "#8C8C8C", "strokeDash": [3, 3], "strokeWidth": 0.8},
               "encoding": {"y": {"datum": 0, "type": "quantitative"}}},
              {"data": {"values": [{"e0": -0.085, "c0": -12750, "e1": 1.567, "c1": 235050}]}, "mark": {"type": "rule", "color": "#000000", "strokeDash": [4, 3], "strokeWidth": 1},
               "encoding": {"x": {"field": "e0", "type": "quantitative"}, "y": {"field": "c0", "type": "quantitative"}, "x2": {"field": "e1"}, "y2": {"field": "c1"}}},
              {"data": {"name": "ell2"}, "mark": {"type": "line", "color": "#FF0000", "strokeWidth": 2.6, "interpolate": "cardinal-closed"},
               "encoding": {"x": {"field": "e", "type": "quantitative"}, "y": {"field": "c", "type": "quantitative"}, "order": {"field": "i", "type": "quantitative"}}}
            ]
          }
        ],
        "spacing": 0, "bounds": "flush",
        "resolve": {"scale": {"x": "independent", "y": "independent", "color": "independent"}, "legend": {"color": "independent"}}
      }
    ],
    "spacing": 0,
    "resolve": {"scale": {"x": "independent", "y": "independent", "color": "independent"}, "legend": {"color": "independent"}}
  }
]
}
